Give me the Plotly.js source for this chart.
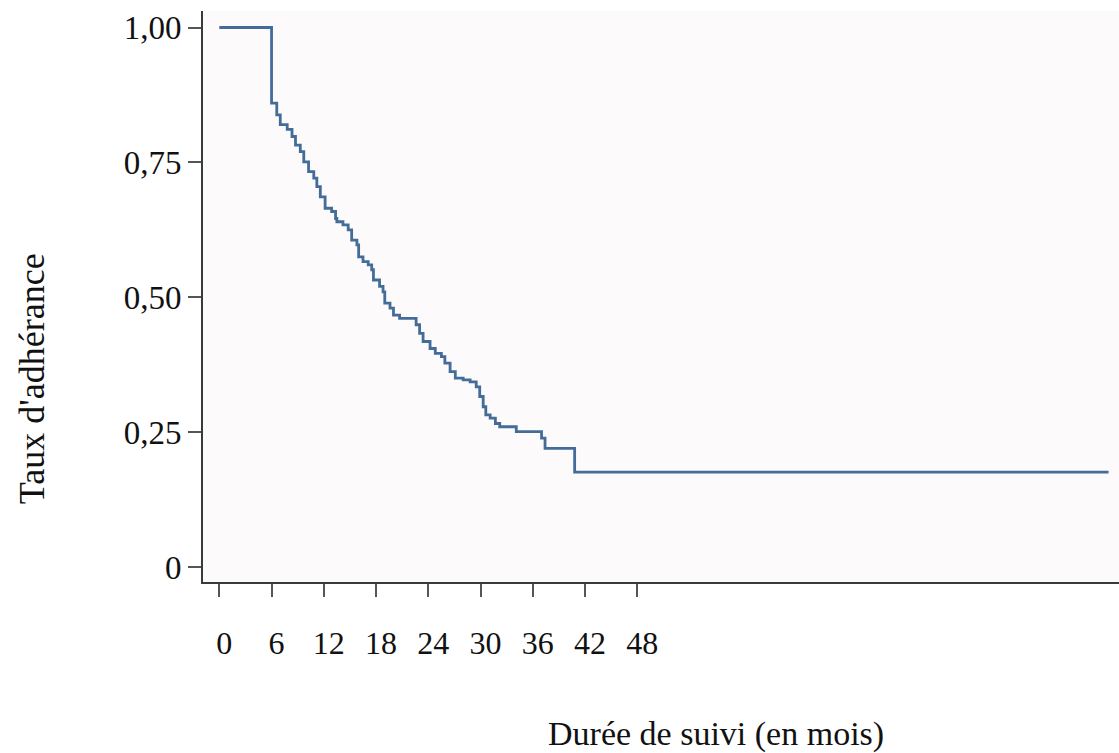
<!DOCTYPE html>
<html>
<head>
<meta charset="utf-8">
<script src="https://cdn.plot.ly/plotly-3.0.1.min.js"></script>
<style>html,body{margin:0;padding:0;background:#fff;}#chart{width:1119px;height:753px;}</style>
</head>
<body>
<div id="chart"></div>
<script>
// Kaplan-Meier style adherence curve (months, adherence rate)
const months = [0, 6.0, 6.6, 7.0, 7.8, 8.35, 8.75, 9.3, 9.7, 10.25, 10.85, 11.2, 11.6, 12.15, 12.9, 13.35, 13.5, 14.2, 14.8, 15.2, 15.8, 16.0, 16.5, 17.1, 17.5, 17.7, 18.4, 18.8, 19.0, 19.6, 20.0, 20.7, 22.6, 23.0, 23.4, 24.2, 24.8, 25.5, 25.9, 26.5, 27.1, 28.0, 28.8, 29.5, 29.9, 30.3, 30.6, 31.1, 31.7, 32.2, 34.1, 37.0, 37.4, 40.8, 102.1];
const adherence = [1.0, 0.860, 0.838, 0.820, 0.811, 0.798, 0.782, 0.770, 0.751, 0.733, 0.721, 0.705, 0.686, 0.665, 0.659, 0.646, 0.640, 0.634, 0.625, 0.606, 0.597, 0.575, 0.566, 0.560, 0.551, 0.532, 0.520, 0.510, 0.489, 0.480, 0.467, 0.461, 0.449, 0.433, 0.418, 0.405, 0.396, 0.390, 0.378, 0.362, 0.350, 0.347, 0.343, 0.334, 0.316, 0.297, 0.282, 0.276, 0.266, 0.260, 0.251, 0.239, 0.220, 0.176, 0.176];
const xTickVals = [0, 6, 12, 18, 24, 30, 36, 42, 48];
const xTickText = ["0", "6", "12", "18", "24", "30", "36", "42", "48"];
const yTickVals = [0, 0.25, 0.5, 0.75, 1.0];
const yTickText = ["0", "0,25", "0,50", "0,75", "1,00"];
const xTitle = "Durée de suivi (en mois)";
const yTitle = "Taux d'adhérance";

const serif = "Liberation Serif, Times New Roman, serif";

const trace = {
  x: months,
  y: adherence,
  type: "scatter",
  mode: "lines",
  line: {shape: "hv", color: "#436c98", width: 2.8},
  hoverinfo: "skip"
};

const layout = {
  width: 1119,
  height: 753,
  margin: {l: 203, r: 0, t: 11, b: 171},
  paper_bgcolor: "#ffffff",
  plot_bgcolor: "#fcfafb",
  showlegend: false,
  font: {family: serif, color: "#111", size: 32},
  xaxis: {
    range: [-1.87, 103.3],
    tickmode: "array",
    tickvals: xTickVals,
    ticktext: xTickText,
    ticks: "outside",
    ticklen: 13,
    tickwidth: 2,
    tickcolor: "#555",
    ticklabelstandoff: 19,
    ticklabelshift: 5,
    showline: true,
    linecolor: "#3a3a3a",
    linewidth: 2,
    showgrid: false,
    zeroline: false,
    tickfont: {family: serif, size: 32, color: "#111"}
  },
  yaxis: {
    range: [-0.0278, 1.0306],
    tickmode: "array",
    tickvals: yTickVals,
    ticktext: yTickText,
    ticks: "outside",
    ticklen: 13,
    tickwidth: 2,
    tickcolor: "#555",
    showline: true,
    linecolor: "#3a3a3a",
    linewidth: 2,
    showgrid: false,
    zeroline: false,
    tickfont: {family: serif, size: 33, color: "#111"}
  },
  annotations: [
    {text: xTitle, xref: "paper", yref: "paper", x: 0.56, y: -0.267, xanchor: "center", yanchor: "middle", showarrow: false, font: {family: serif, size: 34, color: "#111"}},
    {text: yTitle, xref: "paper", yref: "paper", x: -0.1867, y: 0.357, xanchor: "center", yanchor: "middle", textangle: -90, showarrow: false, font: {family: serif, size: 36, color: "#111"}}
  ]
};

Plotly.newPlot("chart", [trace], layout, {displayModeBar: false, staticPlot: true});
</script>
</body>
</html>
